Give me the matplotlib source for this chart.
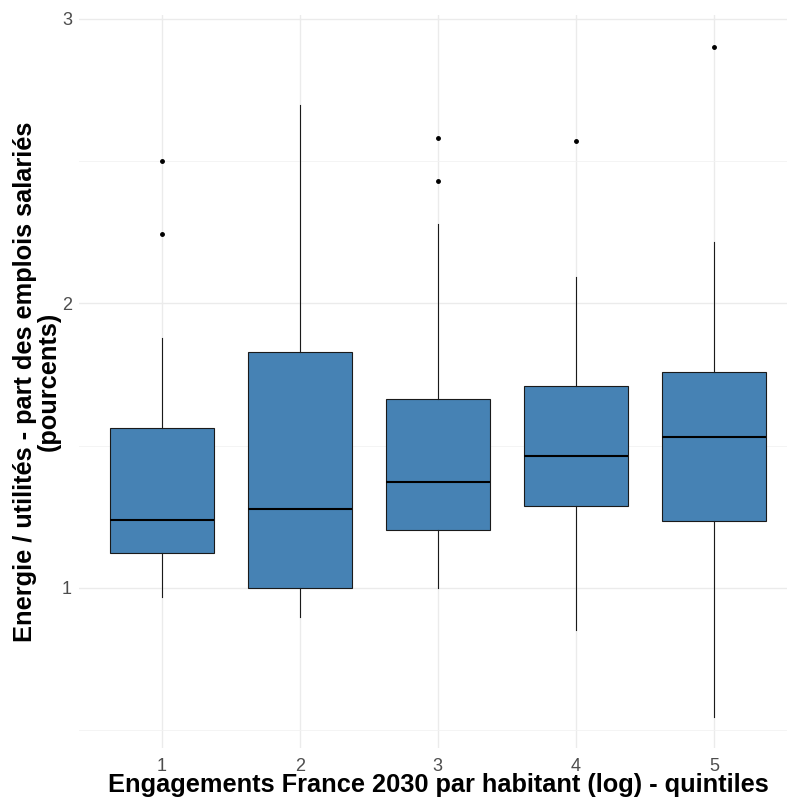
import numpy as np
import matplotlib.pyplot as plt

plt.rcParams['font.family'] = ['Liberation Sans', 'DejaVu Sans']

# quintile groups and box statistics
quintiles = [1, 2, 3, 4, 5]
whislo = [0.968, 0.898, 1.000, 0.852, 0.547]
q1 = [1.123, 1.000, 1.204, 1.288, 1.236]
med = [1.239, 1.278, 1.373, 1.464, 1.531]
q3 = [1.562, 1.830, 1.664, 1.710, 1.759]
whishi = [1.879, 2.698, 2.279, 2.093, 2.216]
outliers = [[2.501, 2.244], [], [2.582, 2.431], [2.571], [2.902]]

W, H = 787, 799
fig = plt.figure(figsize=(W / 100, H / 100), dpi=100)
left, right, top, bottom = 79, 787, 15, 748
ax = fig.add_axes([left / W, 1 - bottom / H, (right - left) / W, (bottom - top) / H])

stats = []
for i in range(len(quintiles)):
    stats.append(dict(med=med[i], q1=q1[i], q3=q3[i], whislo=whislo[i],
                      whishi=whishi[i], fliers=outliers[i]))

ax.bxp(stats, positions=quintiles, widths=0.75, patch_artist=True,
       showcaps=False,
       boxprops=dict(facecolor='#4682b4', edgecolor='#1a1a1a', linewidth=0.8),
       medianprops=dict(color='black', linewidth=1.5),
       whiskerprops=dict(color='#1a1a1a', linewidth=0.8),
       flierprops=dict(marker='o', markerfacecolor='black', markeredgecolor='black',
                       markersize=2.5, linestyle='none'),
       zorder=3)

ax.set_xlim(0.4, 5.53)
ax.set_ylim(0.4376, 3.014)
ax.set_yticks([1, 2, 3])
ax.set_yticks([0.5, 1.5, 2.5], minor=True)
ax.set_xticks(quintiles)
ax.set_xticklabels([str(q) for q in quintiles])
ax.grid(which='major', color='#ebebeb', linewidth=1.0, zorder=0)
ax.grid(which='minor', axis='y', color='#f2f2f2', linewidth=0.6, zorder=0)
ax.set_axisbelow(True)
for s in ax.spines.values():
    s.set_visible(False)
ax.tick_params(which='both', length=0, labelsize=13, labelcolor='#4d4d4d')
ax.tick_params(axis='y', pad=5)
ax.tick_params(axis='x', pad=7)

ax.set_xlabel('Engagements France 2030 par habitant (log) - quintiles',
              fontsize=18.3, fontweight='bold', va='center')
ax.xaxis.set_label_coords(0.507, -(785 - bottom) / (bottom - top))
ax.set_ylabel('Energie / utilités - part des emplois salariés\n(pourcents)',
              fontsize=18.3, fontweight='bold', labelpad=1, linespacing=1.0)

fig.savefig('out.png', dpi=100, facecolor='white')
